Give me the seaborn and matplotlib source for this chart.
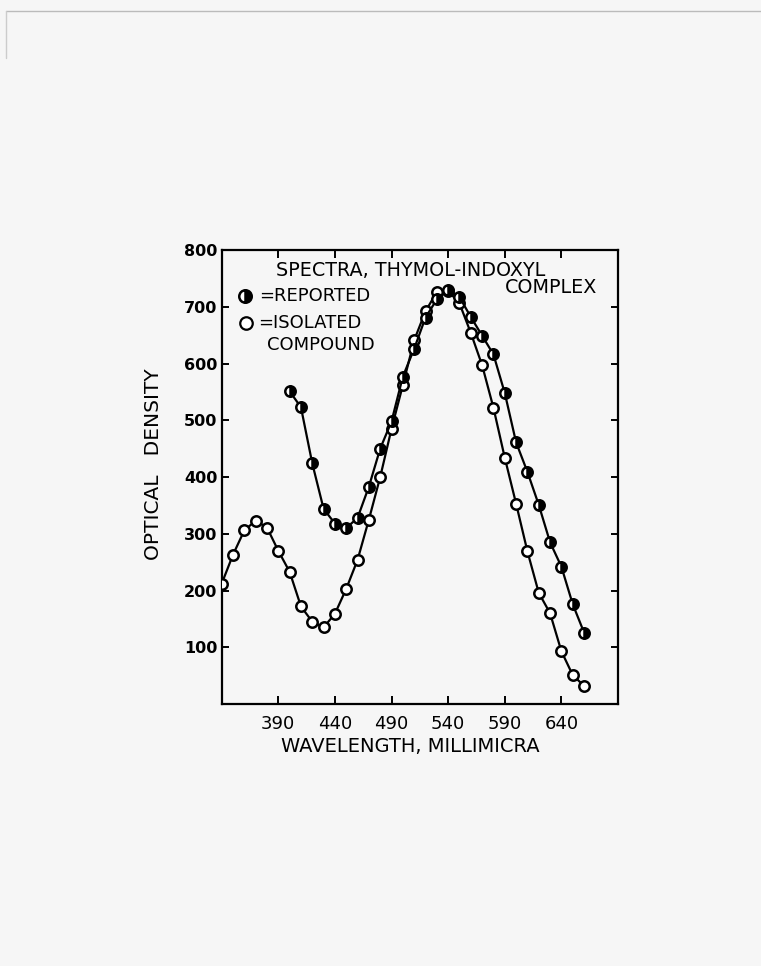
import matplotlib
matplotlib.use("Agg")
import matplotlib.pyplot as plt
import seaborn as sns
import pandas as pd
from matplotlib.lines import Line2D

# wavelength (millimicra) and optical density
isolated_wl = [340, 350, 360, 370, 380, 390, 400, 410, 420, 430, 440, 450, 460,
               470, 480, 490, 500, 510, 520, 530, 540, 550, 560, 570, 580, 590,
               600, 610, 620, 630, 640, 650, 660]
isolated_od = [212, 263, 306, 323, 311, 270, 233, 172, 145, 135, 159, 203, 254,
               325, 400, 485, 562, 641, 692, 726, 728, 706, 654, 597, 522, 434,
               353, 269, 196, 160, 93, 51, 32]

reported_wl = [400, 410, 420, 430, 440, 450, 460, 470, 480, 490, 500, 510, 520,
               530, 540, 550, 560, 570, 580, 590, 600, 610, 620, 630, 640, 650, 660]
reported_od = [551, 523, 424, 344, 318, 310, 328, 383, 450, 498, 577, 626, 681,
               713, 729, 717, 682, 649, 616, 548, 461, 409, 351, 285, 242, 176, 126]

x_ticks = [390, 440, 490, 540, 590, 640]
y_ticks = [100, 200, 300, 400, 500, 600, 700, 800]

iso = pd.DataFrame({"wl": isolated_wl, "od": isolated_od})
rep = pd.DataFrame({"wl": reported_wl, "od": reported_od})

sns.set_style("white")
plt.rcParams['font.family'] = ['DejaVu Sans']
plt.rcParams['text.color'] = 'black'
plt.rcParams['axes.labelcolor'] = 'black'
plt.rcParams['xtick.color'] = 'black'
plt.rcParams['ytick.color'] = 'black'

paper = '#f6f6f6'
fig = plt.figure(figsize=(7.61, 9.66), dpi=100, facecolor=paper)
ax = fig.add_axes([0.2913, 0.2712, 0.5208, 0.470])
ax.set_facecolor(paper)

sns.lineplot(data=iso, x="wl", y="od", ax=ax, color='black', lw=1.6,
             marker='o', markersize=7.5, markerfacecolor='white',
             markeredgecolor='black', markeredgewidth=1.8, zorder=3)
sns.lineplot(data=rep, x="wl", y="od", ax=ax, color='black', lw=1.6,
             marker='o', markersize=7.5, markerfacecolor='black',
             markerfacecoloralt='white', fillstyle='right',
             markeredgecolor='black', markeredgewidth=1.8, zorder=4)

ax.set_xlim(340, 690)
ax.set_ylim(0, 800)
ax.set_xticks(x_ticks)
ax.set_yticks(y_ticks)
ax.set_xticklabels([str(v) for v in x_ticks], fontsize=13)
ax.set_yticklabels([str(v) for v in y_ticks], fontsize=11.5, fontweight='bold')

for s in ax.spines.values():
    s.set_visible(True)
    s.set_color('black')
    s.set_linewidth(1.6)

ax.tick_params(axis='x', direction='in', length=6, width=1.4, top=True,
               bottom=True, pad=8)
ax.tick_params(axis='y', direction='in', length=5, width=1.4, left=True,
               right=True, pad=3)

ax.set_xlabel('WAVELENGTH, MILLIMICRA', fontsize=14)
ax.xaxis.set_label_coords(0.475, -0.072)
ax.set_ylabel('OPTICAL   DENSITY', fontsize=14.5)
ax.yaxis.set_label_coords(-0.148, 0.529)

# annotations inside the axes
ax.text(0.138, 0.955, 'SPECTRA, THYMOL-INDOXYL', transform=ax.transAxes,
        fontsize=13.8, ha='left', va='center')
ax.text(0.948, 0.918, 'COMPLEX', transform=ax.transAxes,
        fontsize=13.8, ha='right', va='center')

ax.plot([0.058], [0.898], transform=ax.transAxes, marker='o', markersize=9,
        markerfacecolor='black', markerfacecoloralt='white', fillstyle='right',
        markeredgecolor='black', markeredgewidth=1.8, ls='none', clip_on=False)
ax.text(0.095, 0.898, '=REPORTED', transform=ax.transAxes, fontsize=13,
        ha='left', va='center')
ax.plot([0.062], [0.840], transform=ax.transAxes, marker='o', markersize=9,
        markerfacecolor='white', markeredgecolor='black',
        markeredgewidth=1.6, ls='none', clip_on=False)
ax.text(0.093, 0.840, '=ISOLATED', transform=ax.transAxes, fontsize=13,
        ha='left', va='center')
ax.text(0.115, 0.791, 'COMPOUND', transform=ax.transAxes, fontsize=13,
        ha='left', va='center')

# faint page border of the scanned sheet
fig.add_artist(Line2D([0.008, 1.0], [0.989, 0.989], transform=fig.transFigure,
                      color='#bbbbbb', lw=1))
fig.add_artist(Line2D([0.008, 0.008], [0.989, 0.94], transform=fig.transFigure,
                      color='#cccccc', lw=1))

fig.savefig('out.png', dpi=100, facecolor=paper)
